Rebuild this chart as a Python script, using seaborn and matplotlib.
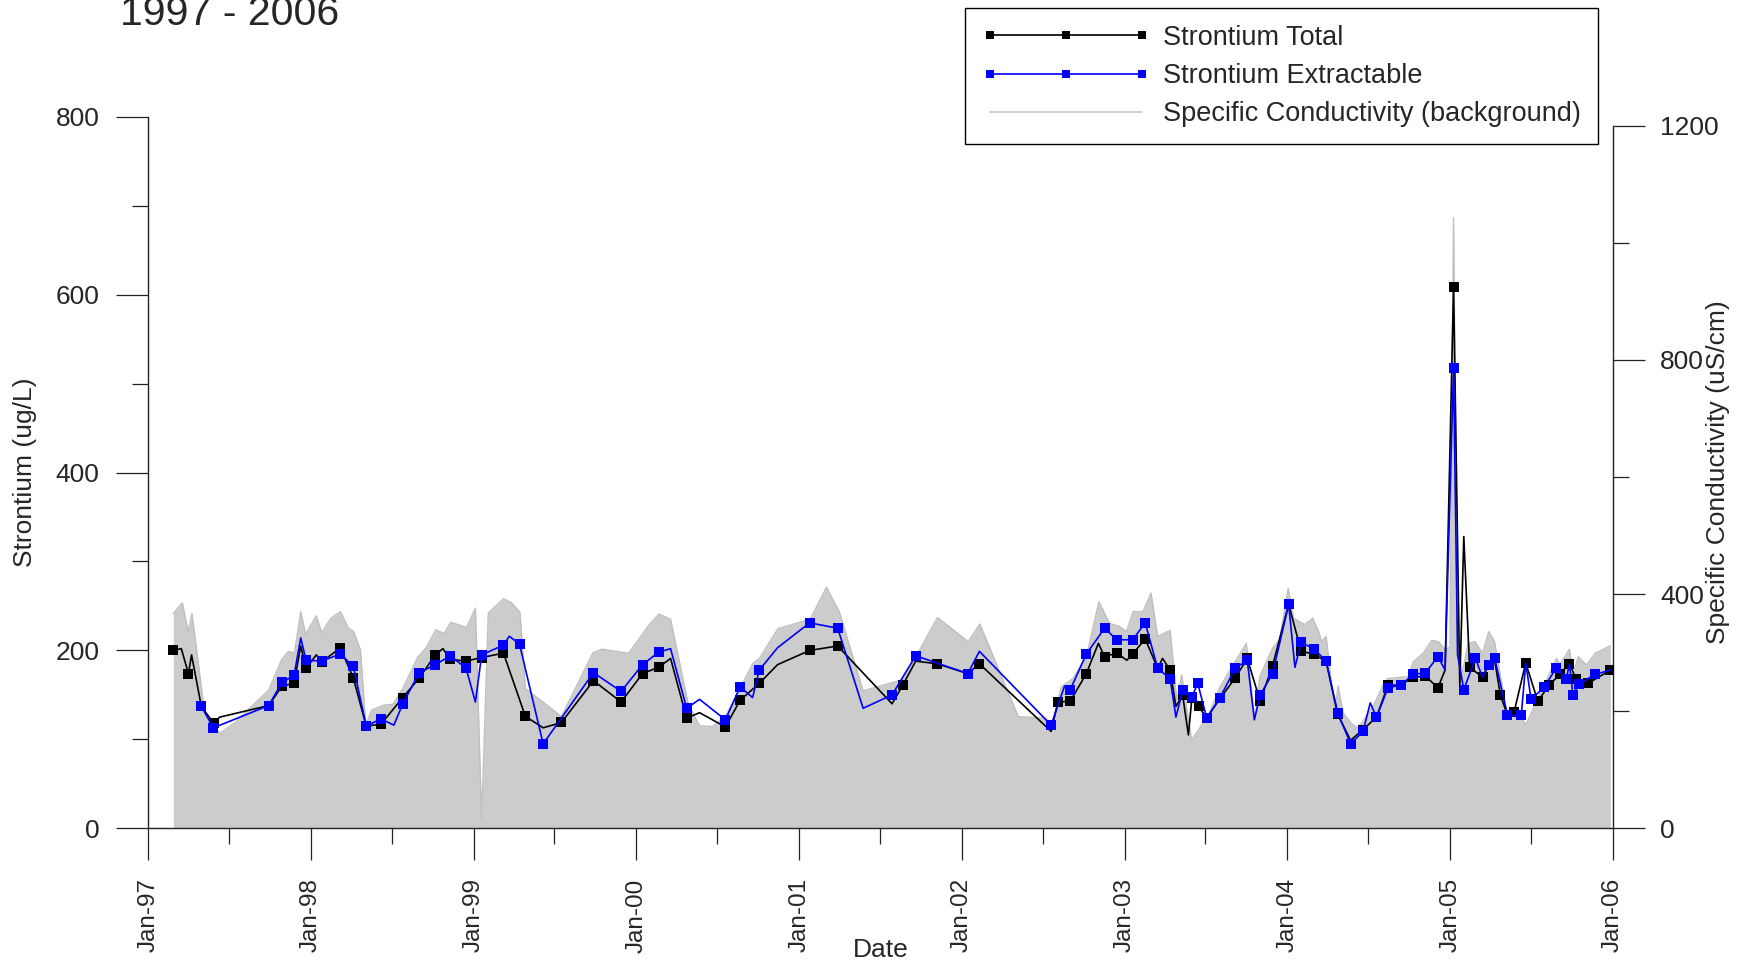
import matplotlib
matplotlib.use('Agg')
import matplotlib.pyplot as plt
import matplotlib.dates as mdates
from matplotlib.lines import Line2D
from matplotlib.ticker import MultipleLocator
import seaborn as sns
import pandas as pd

sns.set_style('ticks')
plt.rcParams['font.family'] = ['Liberation Sans', 'DejaVu Sans']

# Strontium total (ug/L)
total_dates = ['1997-02-26', '1997-03-16', '1997-04-01', '1997-04-08', '1997-04-30', '1997-05-28',
               '1997-06-10', '1997-09-28', '1997-10-28', '1997-11-24', '1997-12-09', '1997-12-21',
               '1998-01-13', '1998-01-25', '1998-03-08', '1998-04-06', '1998-05-05', '1998-06-07',
               '1998-07-26', '1998-09-01', '1998-10-07', '1998-10-24', '1998-11-10', '1998-12-15',
               '1999-01-19', '1999-03-09', '1999-04-27', '1999-06-06', '1999-07-17', '1999-09-27',
               '1999-11-28', '2000-01-15', '2000-02-20', '2000-03-18', '2000-04-23', '2000-05-22',
               '2000-07-19', '2000-08-21', '2000-10-03', '2000-11-13', '2001-01-24', '2001-03-28',
               '2001-07-28', '2001-08-21', '2001-09-19', '2001-11-06', '2002-01-14', '2002-02-09',
               '2002-07-20', '2002-08-04', '2002-09-01', '2002-10-07', '2002-11-03', '2002-11-17',
               '2002-12-14', '2003-01-06', '2003-01-19', '2003-02-16', '2003-03-16', '2003-03-27',
               '2003-04-13', '2003-04-26', '2003-05-11', '2003-05-24', '2003-06-01', '2003-06-16',
               '2003-07-04', '2003-08-03', '2003-09-06', '2003-10-03', '2003-11-01', '2003-11-29',
               '2004-01-04', '2004-02-01', '2004-02-29', '2004-03-28', '2004-04-23', '2004-05-22',
               '2004-06-19', '2004-07-19', '2004-08-14', '2004-09-11', '2004-10-10', '2004-11-06',
               '2004-12-04', '2004-12-20', '2005-01-08', '2005-01-22', '2005-01-31', '2005-02-13',
               '2005-03-14', '2005-03-28', '2005-04-10', '2005-04-23', '2005-05-09', '2005-05-24',
               '2005-06-19', '2005-07-16', '2005-08-11', '2005-09-03', '2005-09-25', '2005-10-10',
               '2005-11-06', '2005-12-26']
total_values = [200, 202, 174, 195, 137, 118,
                125, 138, 160, 163, 205, 180,
                195, 187, 203, 169, 115, 117,
                147, 169, 195, 202, 190, 188,
                192, 197, 126, 113, 119, 166,
                142, 174, 181, 191, 124, 130,
                114, 144, 163, 184, 200, 205,
                140, 161, 188, 185, 174, 185,
                109, 142, 143, 174, 208, 193,
                197, 189, 196, 213, 180, 191,
                178, 137, 150, 105, 147, 137,
                124, 146, 169, 191, 143, 183,
                252, 199, 196, 188, 128, 99,
                111, 125, 161, 161, 170, 171,
                158, 178, 609, 160, 328, 181,
                170, 184, 190, 150, 127, 131,
                186, 143, 161, 173, 185, 168,
                163, 178]
# points on the line that were not drawn with a marker
total_unmarked = ['1997-03-16', '1997-04-08', '1997-06-10', '1997-12-09', '1998-01-13', '1998-10-24',
                  '1999-06-06', '2000-03-18', '2000-05-22', '2000-11-13', '2001-07-28', '2001-09-19',
                  '2002-07-20', '2002-11-03', '2003-01-06', '2003-03-27', '2003-04-26', '2003-05-24',
                  '2004-05-22', '2004-12-20', '2005-01-22', '2005-01-31', '2005-04-10']

# Strontium extractable (ug/L)
extract_dates = ['1997-04-30', '1997-05-27', '1997-09-28', '1997-10-28', '1997-11-24', '1997-12-09',
                 '1997-12-21', '1998-01-25', '1998-03-08', '1998-04-06', '1998-05-05', '1998-06-07',
                 '1998-07-06', '1998-07-26', '1998-09-01', '1998-10-07', '1998-11-10', '1998-12-15',
                 '1999-01-05', '1999-01-19', '1999-03-09', '1999-03-22', '1999-04-14', '1999-06-06',
                 '1999-09-27', '1999-11-28', '2000-01-15', '2000-02-20', '2000-03-18', '2000-04-23',
                 '2000-05-22', '2000-07-19', '2000-08-21', '2000-09-18', '2000-10-03', '2000-11-13',
                 '2001-01-24', '2001-03-28', '2001-05-24', '2001-07-28', '2001-09-19', '2002-01-14',
                 '2002-02-09', '2002-07-20', '2002-08-19', '2002-09-01', '2002-10-07', '2002-11-17',
                 '2002-12-14', '2003-01-19', '2003-02-16', '2003-03-16', '2003-04-13', '2003-04-26',
                 '2003-05-11', '2003-06-01', '2003-06-14', '2003-07-04', '2003-08-03', '2003-09-06',
                 '2003-10-03', '2003-10-19', '2003-11-01', '2003-11-29', '2004-01-04', '2004-01-18',
                 '2004-02-01', '2004-02-29', '2004-03-28', '2004-04-23', '2004-05-22', '2004-06-19',
                 '2004-07-05', '2004-07-19', '2004-08-14', '2004-09-11', '2004-10-10', '2004-11-06',
                 '2004-12-04', '2004-12-20', '2005-01-08', '2005-01-17', '2005-01-31', '2005-02-26',
                 '2005-03-14', '2005-03-28', '2005-04-10', '2005-05-09', '2005-06-09', '2005-06-19',
                 '2005-07-01', '2005-07-31', '2005-08-26', '2005-09-18', '2005-09-25', '2005-10-03',
                 '2005-10-16', '2005-11-21', '2005-12-26']
extract_values = [137, 113, 138, 164, 172, 214,
                  189, 188, 196, 182, 115, 123,
                  116, 140, 175, 184, 194, 180,
                  142, 195, 206, 216, 207, 95,
                  175, 154, 184, 198, 202, 135,
                  145, 122, 159, 147, 178, 203,
                  231, 225, 135, 150, 194, 174,
                  199, 116, 160, 156, 196, 225,
                  212, 212, 231, 180, 168, 125,
                  155, 148, 163, 124, 147, 180,
                  189, 122, 150, 174, 252, 181,
                  209, 202, 188, 130, 95, 109,
                  141, 125, 158, 161, 173, 175,
                  193, 178, 517, 195, 156, 191,
                  170, 184, 192, 127, 127, 186,
                  145, 159, 180, 168, 185, 150,
                  162, 173, 178]
extract_unmarked = ['1997-12-09', '1998-07-06', '1999-01-05', '1999-03-22', '2000-03-18', '2000-05-22',
                    '2000-09-18', '2000-11-13', '2001-05-24', '2002-02-09', '2002-08-19', '2003-04-26',
                    '2003-10-19', '2004-01-18', '2004-07-05', '2004-12-20', '2005-01-17', '2005-03-14',
                    '2005-06-19', '2005-09-25', '2005-12-26']

# Specific conductivity (uS/cm), right axis
cond_dates = ['1997-02-26', '1997-03-18', '1997-04-01', '1997-04-09', '1997-05-07', '1997-06-10',
              '1997-07-17', '1997-08-16', '1997-09-28', '1997-10-27', '1997-11-11', '1997-11-25',
              '1997-12-09', '1997-12-20', '1998-01-13', '1998-01-25', '1998-02-15', '1998-03-08',
              '1998-03-26', '1998-04-07', '1998-04-22', '1998-05-04', '1998-05-17', '1998-06-12',
              '1998-07-04', '1998-07-26', '1998-08-29', '1998-09-16', '1998-10-08', '1998-10-27',
              '1998-11-11', '1998-12-16', '1999-01-05', '1999-01-19', '1999-02-03', '1999-03-09',
              '1999-03-26', '1999-04-15', '1999-04-27', '1999-07-17', '1999-09-26', '1999-10-16',
              '1999-12-15', '2000-01-30', '2000-02-21', '2000-03-18', '2000-04-26', '2000-05-22',
              '2000-06-20', '2000-07-19', '2000-09-19', '2000-10-04', '2000-11-14', '2001-01-25',
              '2001-03-03', '2001-04-01', '2001-05-24', '2001-08-22', '2001-11-07', '2002-01-15',
              '2002-02-10', '2002-05-07', '2002-07-09', '2002-07-20', '2002-08-12', '2002-09-07',
              '2002-10-07', '2002-11-04', '2002-11-28', '2002-12-20', '2003-01-05', '2003-01-20',
              '2003-02-11', '2003-03-01', '2003-03-16', '2003-04-13', '2003-04-28', '2003-05-09',
              '2003-05-31', '2003-06-13', '2003-07-10', '2003-08-03', '2003-10-01', '2003-10-20',
              '2003-10-31', '2003-11-29', '2003-12-15', '2004-01-03', '2004-01-15', '2004-02-09',
              '2004-02-27', '2004-03-13', '2004-03-17', '2004-03-28', '2004-04-16', '2004-04-24',
              '2004-05-05', '2004-05-24', '2004-06-08', '2004-07-15', '2004-08-07', '2004-08-14',
              '2004-09-28', '2004-10-10', '2004-11-01', '2004-11-20', '2004-12-05', '2004-12-20',
              '2004-12-31', '2005-01-08', '2005-01-17', '2005-01-26', '2005-02-10', '2005-02-25',
              '2005-03-14', '2005-03-28', '2005-04-10', '2005-05-09', '2005-06-09', '2005-06-19',
              '2005-08-05', '2005-08-27', '2005-09-04', '2005-09-25', '2005-10-03', '2005-10-15',
              '2005-11-02', '2005-11-22', '2005-12-26']
cond_values = [367, 385, 336, 367, 199, 162,
               182, 205, 236, 288, 302, 300,
               370, 332, 363, 334, 359, 370,
               342, 336, 305, 176, 202, 210,
               212, 239, 293, 308, 339, 333,
               352, 343, 376, 14, 368, 392,
               386, 369, 239, 191, 300, 306,
               299, 348, 366, 357, 214, 175,
               174, 191, 282, 291, 341, 357,
               412, 369, 235, 254, 360, 319,
               349, 191, 188, 171, 242, 256,
               293, 387, 350, 345, 336, 370,
               370, 402, 328, 338, 219, 262,
               151, 165, 197, 242, 316, 185,
               259, 308, 323, 410, 359, 348,
               359, 333, 319, 328, 199, 243,
               197, 179, 171, 214, 251, 256,
               259, 285, 299, 321, 319, 305,
               310, 1043, 330, 260, 316, 319,
               299, 336, 319, 191, 190, 177,
               254, 290, 280, 306, 265, 293,
               279, 299, 312]

total = pd.DataFrame({'date': pd.to_datetime(total_dates), 'value': total_values})
extract = pd.DataFrame({'date': pd.to_datetime(extract_dates), 'value': extract_values})
cond = pd.DataFrame({'date': pd.to_datetime(cond_dates), 'value': cond_values})

total_marks = [i for i, d in enumerate(total_dates) if d not in total_unmarked]
extract_marks = [i for i, d in enumerate(extract_dates) if d not in extract_unmarked]

fig = plt.figure(figsize=(17.45, 9.66), dpi=100)
ax = fig.add_axes([0.085, 0.1425, 0.8394, 0.7367])
ax2 = ax.twinx()

# background conductivity on the right axis
ax2.fill_between(cond['date'], cond['value'], color='#cccccc', lw=0)
sns.lineplot(data=cond, x='date', y='value', ax=ax2, color='#bfbfbf', lw=1)

sns.lineplot(data=total, x='date', y='value', ax=ax, color='black', lw=1.2,
             marker='s', markersize=6.5, markeredgewidth=0, markevery=total_marks)
sns.lineplot(data=extract, x='date', y='value', ax=ax, color='#0000ff', lw=1.2,
             marker='s', markersize=6.5, markeredgewidth=0, markevery=extract_marks)

ax.set_zorder(ax2.get_zorder() + 1)
ax.patch.set_visible(False)

ax.set_xlim(pd.Timestamp('1997-01-01'), pd.Timestamp('2006-01-01'))
ax.set_ylim(0, 800)
ax2.set_ylim(0, 1200 * 711.6 / 702.5)

ax.xaxis.set_major_locator(mdates.YearLocator())
ax.xaxis.set_minor_locator(mdates.MonthLocator(bymonth=7))
ax.xaxis.set_major_formatter(mdates.DateFormatter('%b-%y'))
ax.yaxis.set_major_locator(MultipleLocator(200))
ax.yaxis.set_minor_locator(MultipleLocator(100))
ax2.yaxis.set_major_locator(MultipleLocator(400))
ax2.yaxis.set_minor_locator(MultipleLocator(200))

for a in (ax, ax2):
    a.tick_params(which='major', length=23, width=0.9, color='#222222', labelsize=19)
    a.tick_params(which='minor', length=11.5, width=0.9, color='#222222')
ax.tick_params(axis='x', which='both', bottom=True, direction='out', pad=13)
ax.tick_params(axis='x', labelrotation=90, labelsize=17.5)
ax.tick_params(axis='y', which='both', left=True, direction='out', pad=12)
ax2.tick_params(axis='y', which='both', right=True, direction='out', pad=11)

for s in ['top', 'right']:
    ax.spines[s].set_visible(False)
for s in ['top', 'left', 'bottom']:
    ax2.spines[s].set_visible(False)
ax.spines['left'].set_bounds(0, 800)
ax2.spines['right'].set_bounds(0, 1200)
for sp in (ax.spines['left'], ax.spines['bottom'], ax2.spines['right']):
    sp.set_color('#222222')
    sp.set_linewidth(1)

ax.set_xlabel('Date', fontsize=19)
ax.set_ylabel('Strontium (ug/L)', fontsize=19)
ax2.set_ylabel('Specific Conductivity (uS/cm)', fontsize=19)
ax.xaxis.set_label_coords(0.5, -0.154)
ax.yaxis.set_label_coords(-0.0762, 0.5)
ax2.yaxis.set_label_coords(1.0633, 0.5)

fig.text(0.0688, 0.9746, '1997 - 2006', fontsize=29.5, va='baseline')

handles = [
    Line2D([], [], color='black', lw=1.2, marker='s', markersize=6, markeredgewidth=0),
    Line2D([], [], color='#0000ff', lw=1.2, marker='s', markersize=6, markeredgewidth=0),
    Line2D([], [], color='#c8c8c8', lw=1.2),
]
labels = ['Strontium Total', 'Strontium Extractable', 'Specific Conductivity (background)']
leg = fig.legend(handles, labels, loc='upper right', bbox_to_anchor=(0.9158, 0.9917),
                 bbox_transform=fig.transFigure, fontsize=19.5, numpoints=3,
                 handlelength=6.2, handletextpad=0.5, labelspacing=0.45,
                 borderpad=0.62, borderaxespad=0, fancybox=False, framealpha=1,
                 edgecolor='black')
leg.get_frame().set_linewidth(1)

fig.savefig('out.png', dpi=100)
